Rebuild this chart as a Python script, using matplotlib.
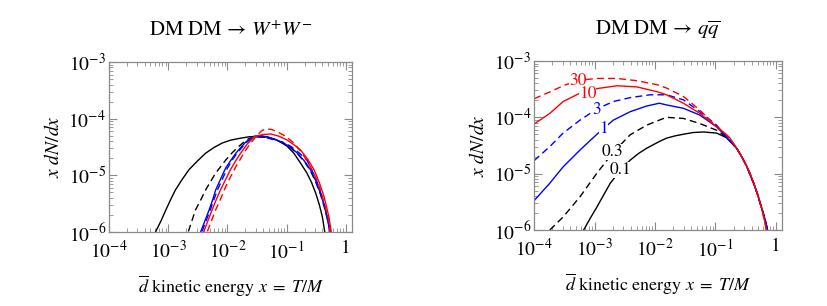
import numpy as np
import matplotlib
matplotlib.use('Agg')
import matplotlib.pyplot as plt
from matplotlib.ticker import LogLocator, FuncFormatter, NullFormatter

plt.rcParams['font.family'] = 'STIXGeneral'
plt.rcParams['mathtext.fontset'] = 'stix'

# ---- left panel: DM DM -> W+W-  (log10 x, log10 y)
ww_black_solid_lx = [-3.21, -3.12, -3.04, -2.96, -2.88, -2.77, -2.65, -2.51, -2.37, -2.23, -2.09, -1.95, -1.81, -1.64, -1.45, -1.30, -1.16, -1.00, -0.88, -0.77, -0.66, -0.58, -0.51, -0.45, -0.40, -0.36]
ww_black_solid_ly = [-5.99, -5.80, -5.61, -5.43, -5.26, -5.08, -4.90, -4.75, -4.61, -4.51, -4.43, -4.38, -4.35, -4.32, -4.31, -4.33, -4.38, -4.48, -4.61, -4.78, -4.96, -5.13, -5.32, -5.52, -5.73, -5.99]
ww_black_dash_lx = [-2.66, -2.60, -2.54, -2.45, -2.37, -2.28, -2.20, -2.11, -2.03, -1.92, -1.81, -1.72, -1.64, -1.50, -1.33, -1.19, -1.05, -0.93, -0.82, -0.70, -0.60, -0.51, -0.43, -0.37, -0.32, -0.27]
ww_black_dash_ly = [-5.99, -5.80, -5.61, -5.43, -5.26, -5.10, -4.96, -4.84, -4.73, -4.60, -4.49, -4.41, -4.35, -4.32, -4.33, -4.37, -4.44, -4.52, -4.62, -4.76, -4.92, -5.12, -5.34, -5.55, -5.75, -5.99]
ww_blue_solid_lx = [-2.45, -2.38, -2.31, -2.25, -2.20, -2.11, -2.03, -1.94, -1.86, -1.77, -1.69, -1.55, -1.44, -1.33, -1.19, -1.05, -0.93, -0.82, -0.70, -0.60, -0.51, -0.43, -0.37, -0.32, -0.27]
ww_blue_solid_ly = [-5.99, -5.80, -5.61, -5.43, -5.26, -5.05, -4.87, -4.73, -4.61, -4.50, -4.41, -4.31, -4.30, -4.32, -4.37, -4.43, -4.51, -4.61, -4.75, -4.90, -5.10, -5.32, -5.52, -5.73, -5.99]
ww_blue_dash_lx = [-2.43, -2.36, -2.29, -2.23, -2.17, -2.08, -2.00, -1.92, -1.84, -1.75, -1.67, -1.52, -1.42, -1.33, -1.19, -1.05, -0.93, -0.82, -0.72, -0.66, -0.58, -0.50, -0.43, -0.37, -0.32, -0.27]
ww_blue_dash_ly = [-5.99, -5.80, -5.61, -5.43, -5.26, -5.05, -4.87, -4.73, -4.61, -4.50, -4.41, -4.32, -4.33, -4.34, -4.38, -4.42, -4.49, -4.58, -4.67, -4.73, -4.90, -5.08, -5.30, -5.52, -5.73, -5.99]
ww_red_solid_lx = [-2.40, -2.33, -2.26, -2.19, -2.12, -2.03, -1.95, -1.86, -1.78, -1.67, -1.55, -1.41, -1.27, -1.13, -0.99, -0.88, -0.77, -0.65, -0.54, -0.45, -0.37, -0.29, -0.25]
ww_red_solid_ly = [-5.99, -5.80, -5.61, -5.43, -5.26, -5.07, -4.90, -4.74, -4.61, -4.45, -4.32, -4.28, -4.27, -4.31, -4.38, -4.46, -4.55, -4.71, -4.90, -5.13, -5.38, -5.73, -5.99]
ww_red_dash_lx = [-2.34, -2.27, -2.20, -2.11, -2.03, -1.94, -1.86, -1.77, -1.69, -1.60, -1.50, -1.43, -1.36, -1.26, -1.16, -1.02, -0.88, -0.74, -0.60, -0.51, -0.43, -0.36, -0.29, -0.27]
ww_red_dash_ly = [-5.99, -5.80, -5.61, -5.40, -5.20, -5.01, -4.85, -4.69, -4.55, -4.42, -4.29, -4.22, -4.18, -4.19, -4.23, -4.31, -4.43, -4.61, -4.85, -5.04, -5.26, -5.52, -5.79, -5.99]

# ---- right panel: DM DM -> q qbar
qq_red_dash_lx = [-4.0, -3.74, -3.50, -3.24, -2.96, -2.63, -2.30, -1.97, -1.81, -1.53, -1.26, -0.98, -0.87, -0.76, -0.68, -0.60, -0.51, -0.43, -0.36, -0.29, -0.23, -0.18, -0.16]
qq_red_dash_ly = [-3.67, -3.55, -3.43, -3.34, -3.31, -3.31, -3.35, -3.42, -3.48, -3.63, -3.87, -4.17, -4.26, -4.37, -4.50, -4.64, -4.81, -4.99, -5.19, -5.41, -5.64, -5.88, -6.0]
qq_red_solid_lx = [-4.0, -3.74, -3.52, -3.24, -2.96, -2.63, -2.30, -1.95, -1.81, -1.53, -1.26, -0.98, -0.87, -0.76, -0.68, -0.60, -0.51, -0.43, -0.36, -0.29, -0.23, -0.18, -0.16]
qq_red_solid_ly = [-4.12, -3.93, -3.72, -3.57, -3.49, -3.44, -3.46, -3.55, -3.60, -3.75, -3.93, -4.17, -4.26, -4.37, -4.50, -4.64, -4.81, -4.99, -5.19, -5.41, -5.64, -5.88, -6.0]
qq_blue_dash_lx = [-4.0, -3.74, -3.52, -3.24, -2.96, -2.69, -2.41, -2.08, -1.81, -1.53, -1.26, -0.98, -0.82, -0.65, -0.56, -0.48, -0.37, -0.31, -0.26, -0.22, -0.18, -0.14]
qq_blue_dash_ly = [-4.77, -4.52, -4.28, -4.05, -3.85, -3.72, -3.65, -3.60, -3.60, -3.69, -3.90, -4.14, -4.35, -4.55, -4.71, -4.88, -5.17, -5.35, -5.53, -5.67, -5.82, -6.0]
qq_blue_solid_lx = [-4.0, -3.74, -3.52, -3.24, -2.96, -2.69, -2.41, -2.14, -1.93, -1.81, -1.53, -1.26, -0.98, -0.82, -0.65, -0.56, -0.48, -0.37, -0.31, -0.26, -0.22, -0.18, -0.14]
qq_blue_solid_ly = [-5.48, -5.17, -4.88, -4.58, -4.30, -4.05, -3.90, -3.80, -3.75, -3.78, -3.84, -3.96, -4.17, -4.35, -4.55, -4.71, -4.88, -5.17, -5.35, -5.53, -5.67, -5.82, -6.0]
qq_black_dash_lx = [-3.74, -3.52, -3.24, -2.96, -2.69, -2.41, -2.14, -1.93, -1.81, -1.53, -1.26, -0.98, -0.82, -0.65, -0.56, -0.48, -0.37, -0.31, -0.26, -0.22, -0.18, -0.14]
qq_black_dash_ly = [-6.0, -5.77, -5.41, -4.99, -4.62, -4.31, -4.14, -4.05, -4.00, -4.02, -4.11, -4.23, -4.35, -4.55, -4.71, -4.88, -5.17, -5.35, -5.53, -5.67, -5.82, -6.0]
qq_black_solid_lx = [-3.18, -3.07, -2.96, -2.85, -2.74, -2.58, -2.41, -2.27, -2.14, -1.93, -1.81, -1.67, -1.53, -1.37, -1.20, -0.98, -0.82, -0.65, -0.56, -0.48, -0.37, -0.31, -0.26, -0.22, -0.18, -0.14]
qq_black_solid_ly = [-6.0, -5.79, -5.59, -5.38, -5.17, -4.95, -4.76, -4.64, -4.55, -4.43, -4.37, -4.33, -4.30, -4.27, -4.26, -4.28, -4.36, -4.55, -4.71, -4.88, -5.17, -5.35, -5.53, -5.67, -5.82, -6.0]

qq_labels = ['30', '10', '3', '1', '0.3', '0.1']
qq_label_lx = [-3.28, -3.12, -2.96, -2.85, -2.70, -2.57]
qq_label_ly = [-3.36, -3.58, -3.87, -4.20, -4.61, -4.94]
qq_label_colors = ['red', 'red', 'blue', 'blue', 'black', 'black']

RED = '#ff0000'
BLUE = '#0000ff'
FRAME = '#8a8a8a'


def draw(ax, lx, ly, color, dashed):
    ax.plot(10 ** np.array(lx), 10 ** np.array(ly), color=color, lw=1.0,
            ls=(0, (5, 3)) if dashed else '-')


def fmt_x(v, pos):
    if abs(v - 1) < 1e-9:
        return '1'
    return r'$10^{%d}$' % int(round(np.log10(v)))


def fmt_y(v, pos):
    return r'$10^{%d}$' % int(round(np.log10(v)))


def style(ax, title):
    ax.set_xscale('log')
    ax.set_yscale('log')
    ax.set_xlim(1e-4, 1.26)
    ax.set_ylim(1e-6, 1e-3)
    ax.xaxis.set_major_locator(LogLocator(base=10, numticks=10))
    ax.xaxis.set_minor_locator(LogLocator(base=10, subs=np.arange(2, 10), numticks=10))
    ax.yaxis.set_major_locator(LogLocator(base=10, numticks=10))
    ax.yaxis.set_minor_locator(LogLocator(base=10, subs=np.arange(2, 10), numticks=10))
    ax.xaxis.set_major_formatter(FuncFormatter(fmt_x))
    ax.yaxis.set_major_formatter(FuncFormatter(fmt_y))
    ax.xaxis.set_minor_formatter(NullFormatter())
    ax.yaxis.set_minor_formatter(NullFormatter())
    ax.tick_params(which='both', direction='in', top=True, right=True,
                   color=FRAME, labelsize=14)
    ax.tick_params(which='major', length=6, width=0.8)
    ax.tick_params(which='minor', length=3, width=0.6)
    ax.tick_params(axis='x', which='major', pad=6)
    ax.tick_params(axis='y', which='major', pad=2)
    for s in ax.spines.values():
        s.set_color(FRAME)
        s.set_linewidth(0.9)
    ax.set_title(title, fontsize=15, pad=19)
    ax.set_xlabel(r'$\overline{d}$ kinetic energy $x\;=\;T/M$', fontsize=13, labelpad=8)
    ax.set_ylabel(r'$x\ dN/dx$', fontsize=14, labelpad=4)


fig = plt.figure(figsize=(8.28, 3.06), dpi=100)
ax1 = fig.add_axes([0.1316, 0.2418, 0.2935, 0.5556])
ax2 = fig.add_axes([0.6450, 0.2484, 0.2995, 0.5523])

draw(ax1, ww_black_solid_lx, ww_black_solid_ly, 'black', False)
draw(ax1, ww_black_dash_lx, ww_black_dash_ly, 'black', True)
draw(ax1, ww_blue_solid_lx, ww_blue_solid_ly, BLUE, False)
draw(ax1, ww_blue_dash_lx, ww_blue_dash_ly, BLUE, True)
draw(ax1, ww_red_solid_lx, ww_red_solid_ly, RED, False)
draw(ax1, ww_red_dash_lx, ww_red_dash_ly, RED, True)
style(ax1, 'DM DM \u2192 $W^{+}W^{-}$')

draw(ax2, qq_black_solid_lx, qq_black_solid_ly, 'black', False)
draw(ax2, qq_black_dash_lx, qq_black_dash_ly, 'black', True)
draw(ax2, qq_blue_solid_lx, qq_blue_solid_ly, BLUE, False)
draw(ax2, qq_blue_dash_lx, qq_blue_dash_ly, BLUE, True)
draw(ax2, qq_red_solid_lx, qq_red_solid_ly, RED, False)
draw(ax2, qq_red_dash_lx, qq_red_dash_ly, RED, True)
style(ax2, 'DM DM \u2192 $q\\overline{q}$')

colmap = {'red': RED, 'blue': BLUE, 'black': 'black'}
for lab, lx, ly, c in zip(qq_labels, qq_label_lx, qq_label_ly, qq_label_colors):
    ax2.text(10 ** lx, 10 ** ly, lab, color=colmap[c], fontsize=12.5,
             ha='center', va='center', zorder=5,
             bbox=dict(facecolor='white', edgecolor='none', pad=0.0))

fig.savefig('out.png', dpi=100)
